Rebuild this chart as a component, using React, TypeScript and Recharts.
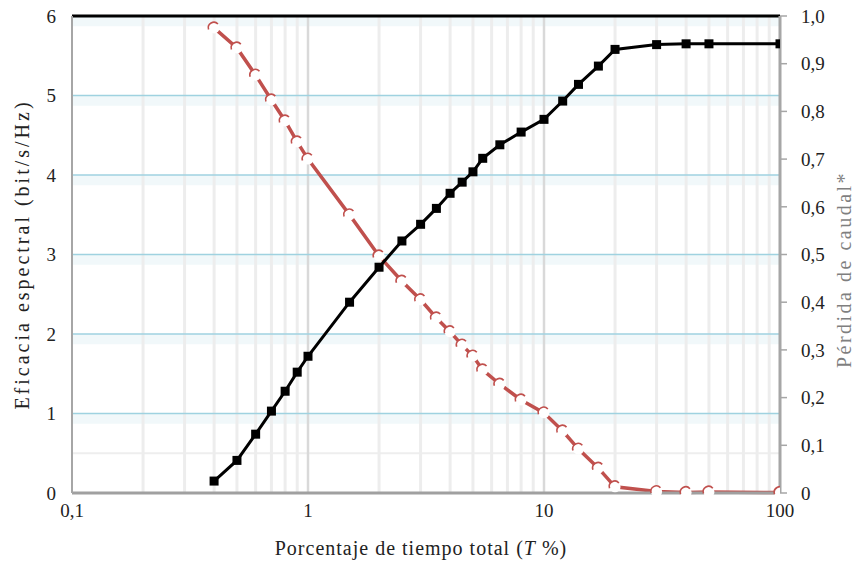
import React from "react"
import {
  ComposedChart,
  Line,
  XAxis,
  YAxis,
  ReferenceLine,
  ReferenceArea,
  Label,
} from "recharts"

// Porcentaje de tiempo total (T %)
const tiempo = [0.4, 0.5, 0.6, 0.7, 0.8, 0.9, 1, 1.5, 2, 2.5, 3, 3.5, 4, 4.5, 5, 5.5, 6.5, 8, 10, 12, 14, 17, 20, 30, 40, 50, 100]
// Eficacia espectral (bit/s/Hz), eje izquierdo
const eficacia = [0.15, 0.41, 0.74, 1.03, 1.28, 1.52, 1.72, 2.4, 2.84, 3.17, 3.38, 3.58, 3.77, 3.91, 4.04, 4.21, 4.38, 4.54, 4.7, 4.93, 5.14, 5.37, 5.58, 5.64, 5.65, 5.65, 5.65]
// Pérdida de caudal*, eje derecho
const perdida = [0.975, 0.933, 0.876, 0.824, 0.78, 0.736, 0.7, 0.583, 0.497, 0.444, 0.405, 0.367, 0.338, 0.31, 0.287, 0.258, 0.228, 0.195, 0.168, 0.13, 0.092, 0.052, 0.013, 0.003, 0.001, 0.002, 0.001]

const xTicks = [0.1, 1, 10, 100]
const minorX = [0.2, 0.3, 0.4, 0.5, 0.6, 0.7, 0.8, 0.9, 2, 3, 4, 5, 6, 7, 8, 9, 20, 30, 40, 50, 60, 70, 80, 90]
const majorX = [1, 10]
const leftTicks = [0, 1, 2, 3, 4, 5, 6]
const rightTicks = [0, 0.1, 0.2, 0.3, 0.4, 0.5, 0.6, 0.7, 0.8, 0.9, 1]

const data = tiempo.map((t, i) => ({ t, eficacia: eficacia[i], perdida: perdida[i] }))

const FONT = "'Liberation Serif', 'DejaVu Serif', serif"
const RED = "#c0504d"

const comma = (v: number) => String(v).replace(".", ",")
const rightFmt = (v: number) => (v === 0 ? "0" : v.toFixed(1).replace(".", ","))

const tickStyle = { fontFamily: FONT, fontSize: 19, fill: "#222" }

// black filled square marker
function SquareDot(props: any) {
  const { cx, cy } = props
  if (cx == null || cy == null) return null
  return <rect x={cx - 4.5} y={cy - 4.5} width={9} height={9} fill="#000" />
}

// white marker with a partial red outline (as in the original export)
function OpenDot(props: any) {
  const { cx, cy } = props
  if (cx == null || cy == null) return null
  const r = 5.5
  return (
    <g>
      <circle cx={cx} cy={cy} r={r} fill="#fff" />
      <path
        d={`M ${cx - r} ${cy + 1.5} A ${r} ${r} 0 0 1 ${cx + r * 0.7} ${cy - r * 0.7}`}
        fill="none"
        stroke={RED}
        strokeWidth={1.6}
      />
    </g>
  )
}

function XTitle(props: any) {
  const { viewBox } = props
  const cx = viewBox.x + viewBox.width / 2
  return (
    <text
      x={cx - 5}
      y={viewBox.y + 62}
      textAnchor="middle"
      style={{ fontFamily: FONT, letterSpacing: 1 }}
      fontSize={20}
      fill="#222"
    >
      <tspan>Porcentaje de tiempo total  (</tspan>
      <tspan fontStyle="italic">T</tspan>
      <tspan> %)</tspan>
    </text>
  )
}

function LeftTitle(props: any) {
  const { viewBox } = props
  const x = viewBox.x + 29
  const y = viewBox.y + viewBox.height / 2
  return (
    <text
      x={x}
      y={y}
      transform={`rotate(-90 ${x} ${y})`}
      textAnchor="middle"
      style={{ fontFamily: FONT, letterSpacing: 3 }}
      fontSize={20}
      fill="#222"
    >
      Eficacia espectral (bit/s/Hz)
    </text>
  )
}

function RightTitle(props: any) {
  const { viewBox } = props
  const x = viewBox.x + viewBox.width - 10
  const y = viewBox.y + viewBox.height / 2 + 15
  return (
    <text
      x={x}
      y={y}
      transform={`rotate(-90 ${x} ${y})`}
      textAnchor="middle"
      style={{ fontFamily: FONT, letterSpacing: 2.5 }}
      fontSize={20}
      fill="#7f7f7f"
    >
      Pérdida de caudal*
    </text>
  )
}

export default function App() {
  return (
    <div style={{ position: "absolute", left: 0, top: 0, background: "#fff", fontFamily: FONT }}>
      <ComposedChart
        width={861}
        height={564}
        data={data}
        margin={{ top: 16, right: 0, bottom: 0, left: 0 }}
        style={{ fontFamily: FONT }}
      >
        <XAxis
          dataKey="t"
          type="number"
          scale="log"
          domain={[0.1, 100]}
          ticks={xTicks}
          tickFormatter={comma}
          allowDataOverflow
          height={71}
          axisLine={{ stroke: "#a0a0a0", strokeWidth: 3 }}
          tickLine={false}
          tickMargin={5}
          tick={tickStyle}
          label={<Label content={<XTitle />} />}
        />
        <YAxis
          yAxisId="l"
          domain={[0, 6]}
          ticks={leftTicks}
          width={72}
          axisLine={{ stroke: "#a6a6a6", strokeWidth: 2 }}
          tickLine={false}
          tickSize={0}
          tickMargin={16}
          tick={tickStyle}
        >
          <Label content={<LeftTitle />} />
        </YAxis>
        <YAxis
          yAxisId="r"
          orientation="right"
          domain={[0, 1]}
          ticks={rightTicks}
          tickFormatter={rightFmt}
          width={81}
          axisLine={{ stroke: "#a6a6a6", strokeWidth: 3 }}
          tickLine={{ stroke: "#a6a6a6", strokeWidth: 1.5 }}
          tickSize={7}
          tickMargin={14}
          tick={{ ...tickStyle, textAnchor: "start" }}
        >
          <Label content={<RightTitle />} />
        </YAxis>

        {/* pale glow under each horizontal gridline */}
        {leftTicks.slice(1).map((v) => (
          <ReferenceArea
            key={`g${v}`}
            yAxisId="l"
            y1={v - 0.13}
            y2={v}
            fill="#f1f8fa"
            fillOpacity={1}
            stroke="none"
            ifOverflow="hidden"
          />
        ))}
        <ReferenceLine yAxisId="l" y={0.5} stroke="#eeeeee" strokeWidth={2} />
        {minorX.map((v) => (
          <ReferenceLine key={`m${v}`} yAxisId="l" x={v} stroke="#ededed" strokeWidth={3} />
        ))}
        {majorX.map((v) => (
          <ReferenceLine key={`M${v}`} yAxisId="l" x={v} stroke="#d9d9d9" strokeWidth={2.5} />
        ))}
        {leftTicks.slice(1, 6).map((v) => (
          <ReferenceLine key={`h${v}`} yAxisId="l" y={v} stroke="#9fd2e0" strokeWidth={1.5} />
        ))}
        <ReferenceLine yAxisId="l" y={6} stroke="#000" strokeWidth={3} />

        <Line
          yAxisId="r"
          dataKey="perdida"
          type="linear"
          stroke={RED}
          strokeWidth={3.5}
          dot={<OpenDot />}
          activeDot={false}
          isAnimationActive={false}
        />
        <Line
          yAxisId="l"
          dataKey="eficacia"
          type="linear"
          stroke="#000"
          strokeWidth={3}
          dot={<SquareDot />}
          activeDot={false}
          isAnimationActive={false}
        />
      </ComposedChart>
    </div>
  )
}
